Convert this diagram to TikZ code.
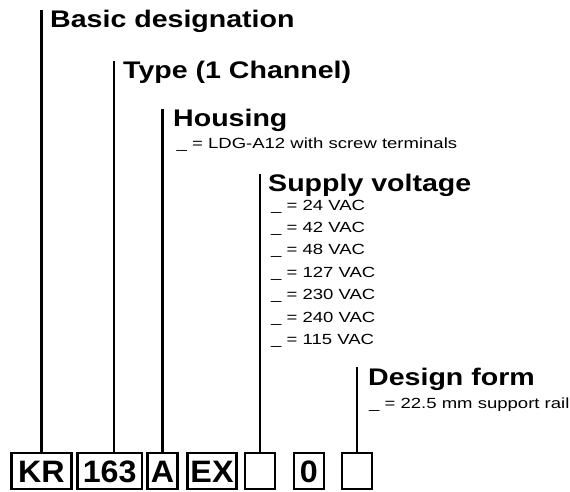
\documentclass[tikz,border=0pt]{standalone}
\usepackage{fontspec}
\newfontfamily\headfont[FakeStretch=1.19]{Liberation Sans Bold}
\newfontfamily\subfont[FakeStretch=1.26]{Liberation Sans}
\newfontfamily\boxfont[FakeStretch=1.04]{Liberation Sans Bold}
\begin{document}
\begin{tikzpicture}[x=1pt,y=-1pt,
  cell/.style={draw, line width=2.1pt, minimum height=36pt, inner sep=0pt, font=\boxfont\fontsize{31}{31}\selectfont},
  head/.style={anchor=base west, inner sep=0pt, font=\headfont\fontsize{24}{28}\selectfont},
  sub/.style={anchor=base west, inner sep=0pt, font=\subfont\fontsize{14.7}{17}\selectfont},
  lead/.style={line width=2.1pt}]
\useasboundingbox (0,0) rectangle (570,492);
% code boxes
\node[cell, minimum width=60pt] (kr) at (41.5,471.4) {KR};
\node[cell, minimum width=64.5pt] (n163) at (109.7,471.4) {163};
\node[cell, minimum width=30pt] (a) at (162.5,471.4) {A};
\node[cell, minimum width=49pt] (ex) at (212,471.4) {EX};
\node[cell, minimum width=30pt] (v) at (259.9,471.4) {};
\node[cell, minimum width=29.5pt] (zero) at (308.8,471.4) {0};
\node[cell, minimum width=30pt] (d) at (356.9,471.4) {};
% headings
\node[head] (bas) at (50,27.5) {Basic designation};
\node[head] (typ) at (123,79) {Type (1 Channel)};
\node[head] (hou) at (173,127) {Housing};
\node[sub] (hou1) at (176.5,148) {\_ = LDG-A12 with screw terminals};
\node[head] (sup) at (268,191.5) {Supply voltage};
\foreach \t [count=\i] in {24,42,48,127,230,240,115}
  \node[sub] (sv\i) at (271,{210+22.4*(\i-1)}) {\_ = \t{} VAC};
\node[head] (des) at (368,385) {Design form};
\node[sub] (des1) at (369,408) {\_ = 22.5 mm support rail};
% leaders
\coordinate (t163) at ([xshift=4.3pt]n163.north);
\draw[lead] (kr.north) -- (kr.north |- bas.north);
\draw[lead] (t163) -- (t163 |- typ.north);
\draw[lead] (a.north) -- (a.north |- hou.north);
\draw[lead] (v.north) -- (v.north |- sup.north);
\draw[lead] (d.north) -- (d.north |- des.north);
\end{tikzpicture}
\end{document}
